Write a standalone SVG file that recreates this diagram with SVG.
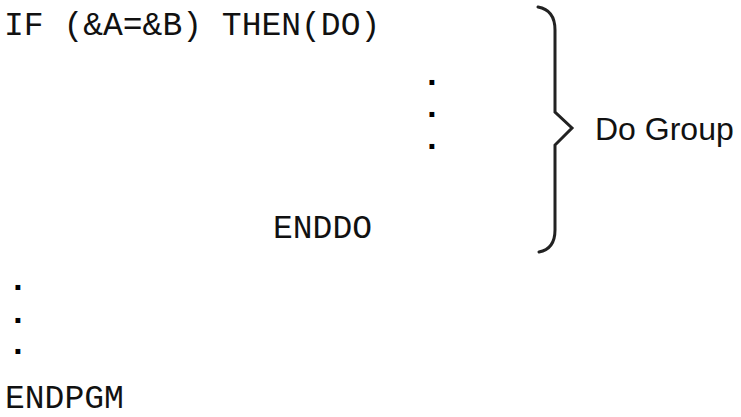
<svg xmlns="http://www.w3.org/2000/svg" width="741" height="417" viewBox="0 0 741 417">
<style>
.code{font-family:"Liberation Mono","Courier New",monospace;font-size:33px;fill:#111;}
.dot{font-family:"DejaVu Sans",sans-serif;font-size:27px;font-weight:bold;fill:#000;text-anchor:middle;}
.label{font-family:"Liberation Sans",Arial,sans-serif;font-size:32px;fill:#111;}
.brace{fill:none;stroke:#222;stroke-width:3;stroke-linejoin:miter;stroke-linecap:round;}
</style>
<rect width="741" height="417" fill="#fff"/>
<g id="code">
<text class="code" x="4" y="35" xml:space="preserve">IF (&amp;A=&amp;B) THEN(DO)</text>
<text class="dot" x="432" y="85">.</text>
<text class="dot" x="432" y="117">.</text>
<text class="dot" x="432" y="149">.</text>
<text class="code" x="273" y="238">ENDDO</text>
<text class="dot" x="18" y="290">.</text>
<text class="dot" x="18" y="323">.</text>
<text class="dot" x="18" y="354">.</text>
<text class="code" x="5" y="408">ENDPGM</text>
</g>
<g id="brace">
<path class="brace" d="M538,7 Q555,10 555,30 L555,112 L572,128 L555,145 L555,230 Q555,249 539,252"/>
</g>
<g id="label">
<text class="label" x="595" y="140">Do Group</text>
</g>
</svg>
